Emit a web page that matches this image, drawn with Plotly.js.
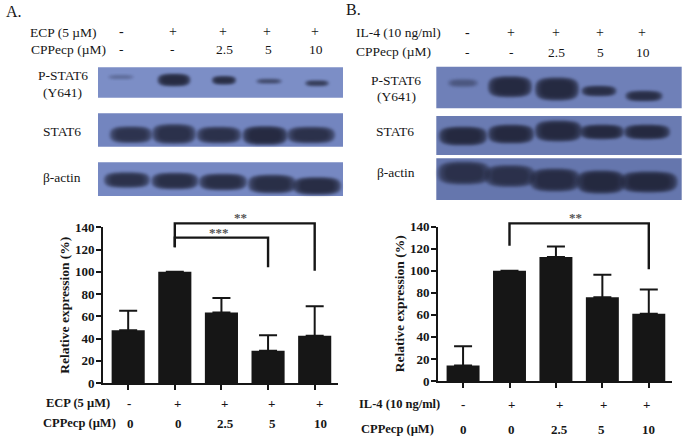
<!DOCTYPE html>
<html><head><meta charset="utf-8">
<script src="https://cdn.plot.ly/plotly-3.0.1.min.js"></script>
<style>html,body{margin:0;padding:0;background:#fff}#c{width:685px;height:438px}</style>
</head><body><div id="c"></div>
<script>
// ---- chart data ----
var positions = [0, 1, 2, 3, 4];
var valuesA = [47.5, 100, 63.5, 29, 42.5];
var upperA  = [65, null, 76.5, 43, 69];
var valuesB = [14, 100, 112.5, 76, 61];
var upperB  = [31.5, null, 122, 96.5, 83];
var yTicks = [0, 20, 40, 60, 80, 100, 120, 140];
var ecpRow  = ['-', '+', '+', '+', '+'];
var il4Row  = ['-', '+', '+', '+', '+'];
var cppRow  = ['0', '0', '2.5', '5', '10'];
var blotTop = ['-', '-', '2.5', '5', '10'];
// significance brackets
var bracketA1X = [1, 1, 4, 4], bracketA1Y = [122, 143.5, 143.5, 101];
var bracketA2X = [1, 1, 3, 3], bracketA2Y = [122, 130.7, 130.7, 104];
var bracketBX  = [1, 1, 4, 4], bracketBY  = [122.7, 143, 143, 101.5];

// ---- western-blot illustration: [centre x, centre y, radius x, radius y, strength] ----
var panels = [
  [98, 67.3, 343, 97.7, '#7c8ec6'], [98, 113.3, 343, 146.7, '#7385bf'], [98, 162.3, 343, 196, '#7688c2'],
  [436.3, 66.7, 681.7, 108.3, '#6f80b8'], [436.3, 116, 681.7, 155, '#6a7bb2'], [436.3, 158.3, 681.7, 200, '#6576ad']
];
var bands = [
  [121,77,12,1.6,.25],[174,80,15,5.5,.95],[224,80.3,11,3.6,.9],[269,81.3,12,1.8,.55],[317,83.3,11,2.3,.7],
  [131,134.7,19.5,7.5,.75],[174,134,20,9,.8],[219,135,20.5,7.5,.8],[265,135.5,20.5,8.5,.95],[311,135,22,7.5,.8],
  [127,180,21,7,.8],[175,181,21.5,7.5,.85],[223,182,22,7.5,.85],[272,184,22,8.5,.85],[317,186,22,8,.9],
  [463,83,14,3.5,.3],[510,86.7,20,9.5,.95],[557,89,20,10.5,.95],[599,91,16,4.5,.85],[644,96,17,4.5,.85],
  [463,136,22,8.5,.95],[511,134,21,8.5,.95],[558.5,131,21.5,9.5,.95],[602,132,20,6.5,.95],[647,132,21,6.5,.95],
  [464,173,24,10.5,.75],[510,176,23,10,.75],[555,180,23,10.5,.85],[601,182,22,10.5,.95],[649,182,26,9.5,.95]
];
var W = 685, H = 438;
function X(p){ return p / W; }
function Y(p){ return 1 - p / H; }
var serif = '"Liberation Serif", "Times New Roman", serif';
var ink = '#161616';

var shapes = [];
panels.forEach(function(r){
  shapes.push({type:'rect', xref:'paper', yref:'paper', layer:'below', x0:X(r[0]), x1:X(r[2]), y0:Y(r[1]), y1:Y(r[3]), fillcolor:r[4], line:{width:0}});
});
var panelShapeCount = shapes.length;
// lozenge outline: flatter than an ellipse, like a film band
function lozenge(cx, cy, rx, ry){
  var k = .8;
  function P(a, b){ return X(cx + a * rx).toFixed(5) + ',' + Y(cy + b * ry).toFixed(5); }
  return 'M' + P(-1,0) + ' C' + P(-1,-k) + ' ' + P(-k,-1) + ' ' + P(0,-1) +
         ' C' + P(k,-1) + ' ' + P(1,-k) + ' ' + P(1,0) +
         ' C' + P(1,k) + ' ' + P(k,1) + ' ' + P(0,1) +
         ' C' + P(-k,1) + ' ' + P(-1,k) + ' ' + P(-1,0) + ' Z';
}
var scales = [1.1, .98, .8];
bands.forEach(function(b){
  scales.forEach(function(s){
    shapes.push({type:'path', xref:'paper', yref:'paper', layer:'below',
      path:lozenge(b[0], b[1], b[2]*s, b[3]*s),
      fillcolor:'#1d2033', opacity:.55*b[4], line:{width:0}});
  });
});

var ann = [];
function t(text, x, y, size, bold, anchor, color){
  ann.push({text: bold ? '<b>'+text+'</b>' : text, xref:'paper', yref:'paper', x:X(x), y:Y(y), xanchor:anchor||'center', yanchor:'middle',
    showarrow:false, font:{family:serif, size:size, color:color||ink}});
}
function row(labels, xs, y, size, bold){ labels.forEach(function(l,i){ t(l, xs[i], y, size, bold); }); }

// upper panel labels
t('A.', 4, 11, 16, false, 'left');
t('B.', 344, 10, 16, false, 'left');
t('ECP (5 µM)', 28, 32, 13.5, false, 'left');
t('CPPecp (µM)', 29, 50, 13.5, false, 'left');
row(ecpRow, [121,173,223,267,315], 31, 14, false);
row(blotTop, [121,172,224,268,316], 50, 13.5, false);
t('IL-4 (10 ng/ml)', 354, 33, 13.5, false, 'left');
t('CPPecp (µM)', 354, 51.5, 13.5, false, 'left');
row(il4Row, [467,511,556,600,642], 33, 14, false);
row(blotTop, [467,511,556,600,643], 52, 13.5, false);
t('P-STAT6', 63, 75, 13.5); t('(Y641)', 63, 92.5, 13.5); t('STAT6', 62, 131, 13.5); t('β-actin', 62, 177, 13.5);
t('P-STAT6', 396, 80, 13.5); t('(Y641)', 396, 97, 13.5); t('STAT6', 395, 131, 13.5); t('β-actin', 396, 173, 13.5);

// lower chart labels
t('ECP (5 µM)', 44, 403, 12.5, true, 'left');
t('CPPecp (µM)', 41, 423, 12.5, true, 'left');
row(ecpRow, [129,177,224,271,319], 403, 13, true);
row(cppRow, [130,178,226,272,320], 423, 13, true);
t('IL-4 (10 ng/ml)', 357, 404, 12.5, true, 'left');
t('CPPecp (µM)', 359, 429, 12.5, true, 'left');
row(il4Row, [463,512,559,603,646], 404, 13, true);
row(cppRow, [463,512,559,601,648], 429, 13, true);
t('**', 240, 218, 13, true, 'center', '#555');
t('***', 219, 232, 13, true, 'center', '#555');
t('**', 575, 218, 13, true, 'center', '#555');

function bars(vals, upper, xa, ya){
  return {type:'bar', x:positions, y:vals, width:.71, xaxis:xa, yaxis:ya,
    marker:{color:ink, line:{width:0}},
    error_y:{type:'data', symmetric:false, array:upper.map(function(u,i){return u===null?null:u-vals[i];}), arrayminus:[0,0,0,0,0], color:ink, thickness:2, width:9},
    hoverinfo:'skip'};
}
function bracket(x, y, xa, ya){
  return {type:'scatter', mode:'lines', x:x, y:y, xaxis:xa, yaxis:ya, cliponaxis:false, line:{color:ink, width:2.4, shape:'linear'}, hoverinfo:'skip'};
}
function xAxis(l, r, anchor){
  return {domain:[X(l), X(r)], range:[-.54, 4.5], anchor:anchor, tickmode:'array', tickvals:positions, showticklabels:false,
    ticks:'outside', ticklen:5, tickwidth:2, tickcolor:ink, showline:true, linewidth:2, linecolor:ink, showgrid:false, zeroline:false, fixedrange:true};
}
function yAxis(b, tp, anchor){
  return {domain:[Y(b), Y(tp)], range:[0, 140], anchor:anchor, tickmode:'array', tickvals:yTicks, ticks:'outside', ticklen:5, tickwidth:2, tickcolor:ink,
    tickfont:{family:serif, size:13, color:ink, weight:'bold'}, ticklabelstandoff:-1, showline:true, linewidth:2, linecolor:ink, showgrid:false, zeroline:false, fixedrange:true,
    title:{text:'<b>Relative expression (%)</b>', font:{family:serif, size:13.5, color:ink}, standoff:2}};
}
// hidden twin of a y axis: same scale, but tall enough for the brackets above 140
function bracketAxis(b, tp, over){
  var pxPerUnit = (b - tp) / 140, roof = 205;
  return {domain:[Y(b), Y(roof)], range:[0, (b - roof) / pxPerUnit], anchor:over === 'y' ? 'x' : 'x2', visible:false, fixedrange:true};
}
var data = [
  bars(valuesA, upperA, 'x', 'y'),
  bracket(bracketA1X, bracketA1Y, 'x', 'y3'),
  bracket(bracketA2X, bracketA2Y, 'x', 'y3'),
  bars(valuesB, upperB, 'x2', 'y2'),
  bracket(bracketBX, bracketBY, 'x2', 'y4')
];
var layout = {
  width:W, height:H, margin:{l:0,r:0,t:0,b:0}, paper_bgcolor:'#fff', plot_bgcolor:'rgba(0,0,0,0)', showlegend:false,
  xaxis:xAxis(103, 338, 'y'), yaxis:yAxis(383, 227.3, 'x'),
  xaxis2:xAxis(438, 672, 'y2'), yaxis2:yAxis(381, 226.7, 'x2'),
  yaxis3:bracketAxis(383, 227.3, 'y'), yaxis4:bracketAxis(381, 226.7, 'y2'),
  shapes:shapes, annotations:ann
};
Plotly.newPlot('c', data, layout, {displayModeBar:false, staticPlot:true}).then(function(){
  // soft film-like edges on the blot bands only
  var paths = document.querySelectorAll('.shapelayer path');
  var seen = 0;
  paths.forEach(function(p){
    if (p.style.fill && seen >= panelShapeCount) p.style.filter = 'blur(1.6px)';
    seen++;
  });
});
</script></body></html>
